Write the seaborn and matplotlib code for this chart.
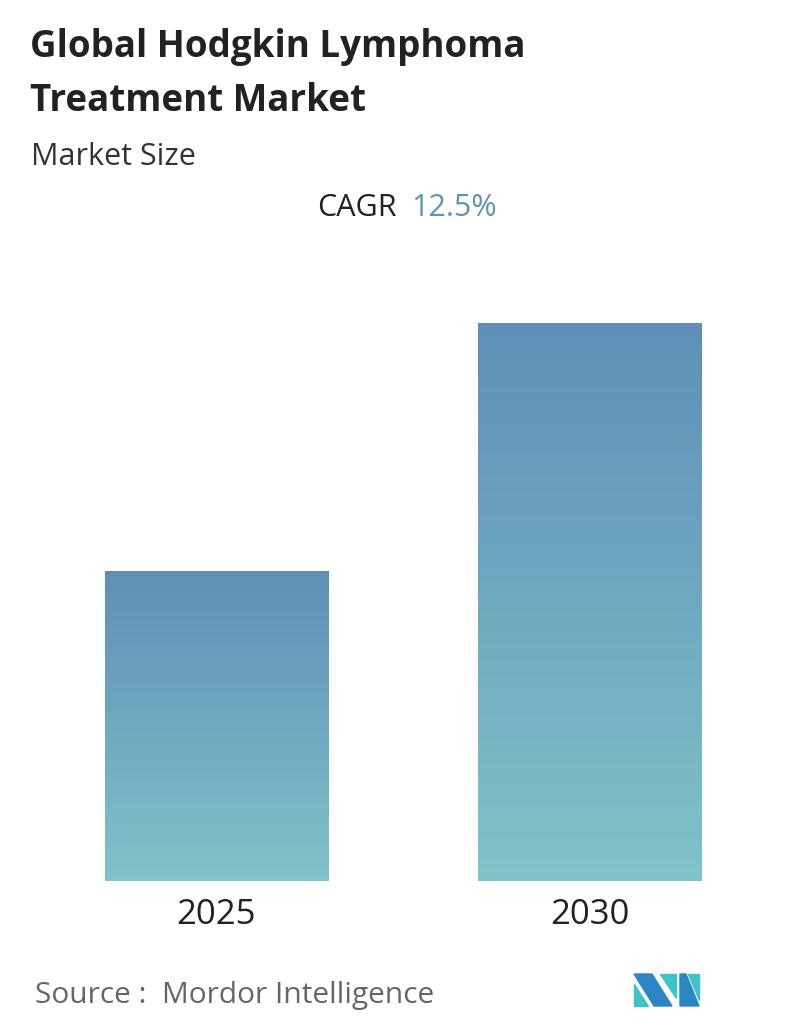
import numpy as np
import pandas as pd
import matplotlib
matplotlib.use("Agg")
import matplotlib.pyplot as plt
import seaborn as sns
from matplotlib.patches import Polygon
from matplotlib.colors import LinearSegmentedColormap

# relative market size (CAGR 12.5% over 5 years)
years = ["2025", "2030"]
sizes = [1.0, 1.80]

sns.set_theme(style="white")
plt.rcParams['font.family'] = ['Open Sans', 'DejaVu Sans']

W, H = 796, 1034
fig = plt.figure(figsize=(W / 100, H / 100), dpi=100)
ax = fig.add_axes([30 / W, 1 - 881 / H, 746 / W, 631 / H])

df = pd.DataFrame({"year": years, "size": sizes})
sns.barplot(data=df, x="year", y="size", width=0.6, color="#6a9fbf", ax=ax)

# vertical gradient fill clipped to each bar
grad = np.linspace(0, 1, 256).reshape(-1, 1)
cmap = LinearSegmentedColormap.from_list("g", ["#80c3c8", "#5f8fb7"])
for bar in ax.patches:
    x0, y0 = bar.get_x(), bar.get_y()
    w, h = bar.get_width(), bar.get_height()
    im = ax.imshow(grad, extent=[x0, x0 + w, y0, y0 + h], origin="lower",
                   aspect="auto", cmap=cmap, zorder=3)
    im.set_clip_path(bar)
ax.set_xlim(-0.5, 1.5)
ax.set_ylim(0, 631 / 310)

for s in ax.spines.values():
    s.set_visible(False)
ax.set_yticks([])
ax.set_xlabel("")
ax.set_ylabel("")
ax.tick_params(axis="x", length=0, labelsize=25, labelcolor="#222222", pad=12)

fig.text(30 / W, 1 - 47 / H, "Global Hodgkin Lymphoma", fontsize=26.5, fontweight="bold",
         color="#222222", va="center")
fig.text(30 / W, 1 - 101 / H, "Treatment Market", fontsize=26.5, fontweight="bold",
         color="#222222", va="center")
fig.text(31 / W, 1 - 157 / H, "Market Size", fontsize=22, color="#333333", va="center")
fig.text(397 / W, 1 - 208 / H, "CAGR", fontsize=22, color="#222222", va="center", ha="right")
fig.text(411 / W, 1 - 208 / H, "12.5%", fontsize=22, color="#5f93bb", va="center", ha="left")
fig.text(35 / W, 1 - 996 / H, "Source :  Mordor Intelligence", fontsize=21.5,
         color="#666666", va="center")

# logo
def px(pts):
    return [(x / W, 1 - y / H) for x, y in pts]
fig.patches.append(Polygon(px([(634, 974), (652, 974), (672, 1006), (654, 1006)]),
                           closed=True, color="#2d86c4", transform=fig.transFigure))
fig.patches.append(Polygon(px([(634, 984), (634, 1006), (648, 1006)]),
                           closed=True, color="#3cc4c8", transform=fig.transFigure))
fig.patches.append(Polygon(px([(660, 974), (676, 974), (676, 998)]),
                           closed=True, color="#3cc4c8", transform=fig.transFigure))
fig.patches.append(Polygon(px([(680, 974), (686, 974), (699, 1006), (680, 1006)]),
                           closed=True, color="#2d86c4", transform=fig.transFigure))
fig.patches.append(Polygon(px([(688, 974), (699, 974), (699, 1000)]),
                           closed=True, color="#3cc4c8", transform=fig.transFigure))

fig.savefig("out.png", dpi=100, facecolor="white")
